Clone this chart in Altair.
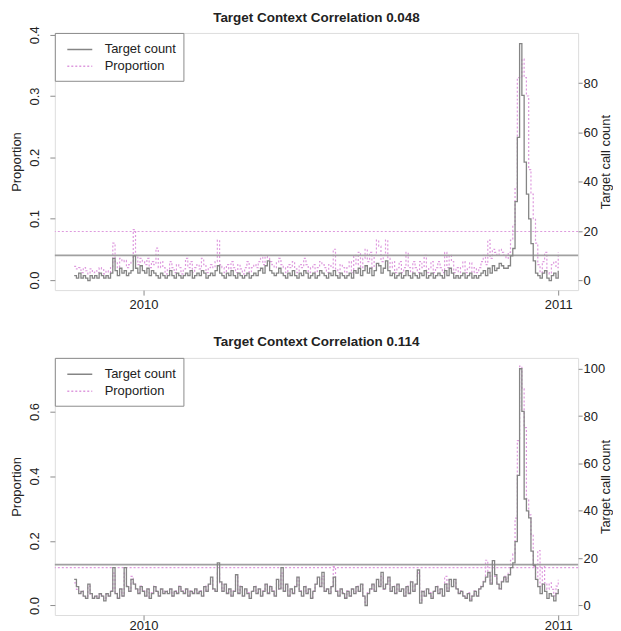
import altair as alt
import pandas as pd

# ---------------- data (one value per 2 days) ----------------
START_DATE = "2009-11-01"
STEP_DAYS = 2
SERIES = ["Target count", "Proportion"]
TITLES = ["Target Context Correlation 0.048", "Target Context Correlation 0.114"]

top_count = [
    2, 1, 3, 1, 2, 1, 0, 2, 1, 2,
    1, 3, 2, 1, 2, 1, 3, 9, 4, 2,
    5, 3, 4, 2, 3, 4, 10, 5, 3, 6,
    4, 3, 5, 2, 4, 3, 2, 1, 3, 2,
    1, 2, 4, 2, 1, 3, 2, 1, 2, 3,
    2, 4, 1, 2, 3, 2, 4, 3, 1, 2,
    3, 2, 4, 6, 3, 2, 1, 3, 2, 4,
    2, 1, 3, 2, 1, 2, 3, 1, 2, 3,
    2, 4, 5, 3, 6, 8, 4, 3, 2, 3,
    5, 3, 2, 1, 3, 2, 4, 2, 1, 3,
    2, 4, 3, 1, 2, 3, 1, 2, 4, 3,
    2, 1, 3, 2, 4, 2, 1, 3, 2, 1,
    2, 3, 1, 4, 3, 5, 2, 4, 6, 3,
    5, 2, 4, 7, 6, 3, 5, 8, 4, 2,
    3, 1, 2, 3, 1, 2, 4, 2, 1, 3,
    2, 1, 3, 2, 4, 1, 2, 3, 1, 2,
    3, 2, 1, 4, 2, 5, 3, 1, 2, 1,
    2, 3, 1, 2, 3, 1, 2, 1, 2, 3,
    4, 2, 5, 3, 6, 4, 5, 7, 6, 5,
    5, 6, 10, 13, 32, 58, 96, 75, 48, 35,
    25, 15, 8, 3, 2, 1, 3, 4, 1, 0,
    2, 3, 1, 4,
]
top_prop = [
    .022, .018, .02, .012, .02, .015, .01, .018, .012, .015,
    .012, .02, .018, .01, .015, .012, .02, .06, .03, .02,
    .035, .03, .032, .02, .025, .03, .082, .04, .025, .035,
    .03, .025, .035, .02, .03, .025, .052, .02, .03, .02,
    .01, .018, .03, .02, .012, .025, .02, .01, .018, .035,
    .02, .03, .012, .02, .025, .018, .035, .025, .012, .02,
    .025, .02, .03, .065, .025, .02, .012, .025, .018, .03,
    .02, .012, .025, .018, .01, .02, .03, .012, .02, .025,
    .02, .03, .04, .025, .038, .035, .03, .025, .02, .028,
    .035, .025, .02, .012, .025, .02, .03, .018, .012, .025,
    .02, .035, .025, .012, .02, .025, .012, .02, .03, .025,
    .02, .012, .025, .02, .05, .018, .012, .025, .02, .012,
    .02, .03, .012, .04, .025, .045, .02, .035, .05, .03,
    .045, .02, .04, .065, .055, .03, .04, .065, .035, .02,
    .03, .012, .02, .03, .012, .02, .045, .02, .012, .03,
    .02, .012, .03, .02, .04, .012, .02, .03, .012, .02,
    .03, .02, .012, .045, .02, .04, .03, .012, .02, .012,
    .02, .03, .012, .02, .028, .012, .02, .012, .02, .03,
    .04, .025, .065, .035, .05, .045, .04, .05, .045, .04,
    .035, .045, .065, .09, .15, .33, .33, .36, .33, .3,
    .18, .14, .1, .06, .025, .012, .03, .045, .012, .01,
    .025, .03, .02, .045,
]
bottom_count = [
    11, 8, 5, 6, 4, 3, 9, 5, 3, 4,
    3, 5, 4, 2, 5, 4, 6, 16, 5, 3,
    7, 4, 16, 8, 6, 11, 9, 7, 5, 8,
    6, 4, 7, 3, 5, 8, 6, 4, 7, 5,
    6, 5, 7, 4, 6, 5, 8, 6, 5, 7,
    4, 6, 5, 7, 5, 6, 4, 8, 6, 9,
    12, 7, 6, 18, 10, 6, 9, 5, 7, 4,
    6, 13, 5, 8, 4, 7, 5, 3, 6, 8,
    5, 7, 4, 6, 9, 5, 8, 6, 4, 11,
    7, 16, 6, 9, 4, 7, 5, 8, 12, 6,
    4, 8, 5, 7, 3, 6, 9, 12, 8, 14,
    6, 7, 5, 8, 12, 6, 4, 7, 5, 3,
    6, 4, 7, 5, 8, 6, 9, 4, 0, 5,
    7, 9, 6, 11, 8, 14, 7, 9, 12, 6,
    8, 5, 9, 6, 7, 4, 8, 5, 10, 6,
    9, 15, 1, 6, 4, 7, 5, 3, 6, 8,
    5, 7, 4, 9, 6, 11, 8, 11, 7, 5,
    6, 4, 3, 5, 2, 4, 6, 4, 7, 8,
    10, 12, 14, 9, 19, 13, 9, 7, 10, 12,
    10, 13, 16, 18, 27, 55, 100, 82, 45, 40,
    37, 23, 17, 11, 8, 5, 9, 6, 3, 5,
    4, 2, 5, 7,
]
bottom_prop = [
    .07, .05, .04, .045, .03, .025, .06, .035, .025, .03,
    .025, .035, .03, .02, .035, .03, .045, .1, .04, .025,
    .05, .03, .1, .06, .045, .09, .07, .05, .04, .06,
    .045, .03, .05, .025, .04, .06, .045, .03, .05, .04,
    .045, .04, .05, .03, .045, .04, .06, .045, .04, .05,
    .03, .045, .04, .05, .04, .045, .03, .06, .045, .065,
    .08, .05, .045, .1, .07, .045, .065, .04, .05, .03,
    .045, .09, .04, .06, .03, .05, .04, .025, .045, .06,
    .04, .05, .03, .045, .065, .04, .06, .045, .03, .08,
    .05, .1, .045, .065, .03, .05, .04, .06, .085, .045,
    .03, .06, .04, .05, .025, .045, .065, .085, .06, .09,
    .045, .05, .04, .06, .12, .045, .03, .05, .04, .025,
    .045, .03, .05, .04, .06, .045, .065, .03, .01, .04,
    .05, .065, .045, .08, .06, .09, .05, .065, .085, .045,
    .06, .04, .065, .045, .05, .03, .06, .04, .075, .045,
    .065, .1, .015, .045, .03, .05, .04, .025, .045, .06,
    .04, .05, .03, .09, .045, .08, .06, .08, .05, .04,
    .045, .03, .025, .04, .02, .03, .045, .03, .05, .06,
    .075, .14, .1, .07, .13, .09, .065, .05, .075, .09,
    .08, .1, .14, .16, .27, .51, .74, .67, .55, .33,
    .28, .22, .12, .08, .17, .06, .12, .07, .05, .07,
    .05, .03, .06, .08,
]
prop_thresholds = [0.079, 0.117]
count_thresholds = [10.2, 17.3]

# ---------------- scales / ticks ----------------
prop_domains = [[-0.0166, 0.4028], [-0.0294, 0.7655]]
count_domains = [[-3.86, 100.3], [-4.02, 104.6]]
prop_ticks = [[0, 0.1, 0.2, 0.3, 0.4], [0, 0.2, 0.4, 0.6]]
count_ticks = [[0, 20, 40, 60, 80], [0, 20, 40, 60, 80, 100]]
title_offsets = [1.5, 9]
x_label_pads = [3, 0]
X_DOMAIN = [alt.DateTime(year=2009, month=10, date=15),
            alt.DateTime(year=2011, month=1, date=18, hours=12)]
X_TICKS = [alt.DateTime(year=2010, month=1, date=1),
           alt.DateTime(year=2011, month=1, date=1)]

GRAY = "#858585"
PINK = "#de9ade"
RULE_GRAY = "#a0a0a0"
BOX = "#8c8c8c"
TEXT = "#222222"
FONT = "Liberation Sans"
PLOT_W, PLOT_H = 525, 258


def panel(counts, props, title, k):
    dates = pd.date_range(START_DATE, periods=len(counts), freq=f"{STEP_DAYS}D")
    df_c = pd.DataFrame({"date": dates, "value": counts, "series": SERIES[0]})
    df_p = pd.DataFrame({"date": dates, "value": props, "series": SERIES[1]})

    xenc = alt.X("date:T", title=None,
                 scale=alt.Scale(domain=X_DOMAIN, nice=False),
                 axis=alt.Axis(values=X_TICKS, format="%Y", grid=False, domain=False,
                               tickSize=5, tickColor=BOX, labelPadding=x_label_pads[k],
                               labelFlush=False,
                               labelFontSize=13, labelColor=TEXT, labelFont=FONT))
    leg = alt.Legend(title=None, orient="none", legendX=0, legendY=0,
                     strokeColor=BOX, fillColor="white", padding=7,
                     labelFontSize=13, labelColor=TEXT, labelFont=FONT,
                     labelOffset=24, symbolSize=300, symbolStrokeWidth=1.5,
                     symbolType="M-0.46,0H2.43", rowPadding=-2)
    color = alt.Color("series:N", scale=alt.Scale(domain=SERIES, range=[GRAY, PINK]), legend=leg)
    dash = alt.StrokeDash("series:N", scale=alt.Scale(domain=SERIES, range=[[1, 0], [2, 2]]), legend=leg)

    prop_line = alt.Chart(df_p).mark_line(interpolate="step-after", strokeWidth=1.2).encode(
        x=xenc,
        y=alt.Y("value:Q", title="Proportion",
                scale=alt.Scale(domain=prop_domains[k], nice=False, zero=False),
                axis=alt.Axis(orient="left", values=prop_ticks[k], format=".1f",
                              grid=False, domain=False, tickSize=5, tickColor=BOX,
                              labelAngle=270, labelAlign="center", labelBaseline="bottom",
                              labelFlush=False, labelOverlap=False,
                              labelPadding=8, labelFontSize=13, labelColor=TEXT,
                              labelFont=FONT, titleFontSize=13, titleFontWeight="normal",
                              titleColor=TEXT, titleFont=FONT, titlePadding=5)),
        color=color, strokeDash=dash,
    )
    prop_rule = alt.Chart(pd.DataFrame({"value": [prop_thresholds[k]]})).mark_rule(
        color=PINK, strokeDash=[2, 2], strokeWidth=1.2
    ).encode(y="value:Q")
    count_line = alt.Chart(df_c).mark_line(interpolate="step-after", strokeWidth=1.3).encode(
        x=xenc,
        y=alt.Y("value:Q", title="Target call count",
                scale=alt.Scale(domain=count_domains[k], nice=False, zero=False),
                axis=alt.Axis(orient="right", values=count_ticks[k], format="d",
                              grid=False, domain=False, tickSize=4, tickColor=BOX,
                              labelFlush=False, labelOverlap=False,
                              labelPadding=1, labelFontSize=13, labelColor=TEXT,
                              labelFont=FONT, titleFontSize=13, titleFontWeight="normal",
                              titleColor=TEXT, titleFont=FONT, titleAngle=270,
                              titleAlign="center", titleBaseline="top",
                              titleX=21, titleY=PLOT_H / 2)),
        color=color, strokeDash=dash,
    )
    count_rule = alt.Chart(pd.DataFrame({"value": [count_thresholds[k]]})).mark_rule(
        color=RULE_GRAY, strokeWidth=1.8
    ).encode(y="value:Q")

    return alt.layer(
        alt.layer(prop_rule, prop_line),
        alt.layer(count_rule, count_line),
    ).resolve_scale(y="independent").properties(
        width=PLOT_W, height=PLOT_H,
        title=alt.TitleParams(title, fontSize=13.5, fontWeight="bold", font=FONT,
                              color=TEXT, offset=title_offsets[k], anchor="middle",
                              frame="group"),
    )


top = panel(top_count, top_prop, TITLES[0], 0)
bottom = panel(bottom_count, bottom_prop, TITLES[1], 1)

chart = alt.vconcat(top, bottom, spacing=22).resolve_scale(
    color="independent", strokeDash="independent"
).properties(
    padding={"left": 2, "top": 1, "right": 0, "bottom": 0}
).configure_view(stroke=BOX, strokeWidth=1).configure(font=FONT)

chart.save("out.html", embed_options={"renderer": "svg", "actions": False})
